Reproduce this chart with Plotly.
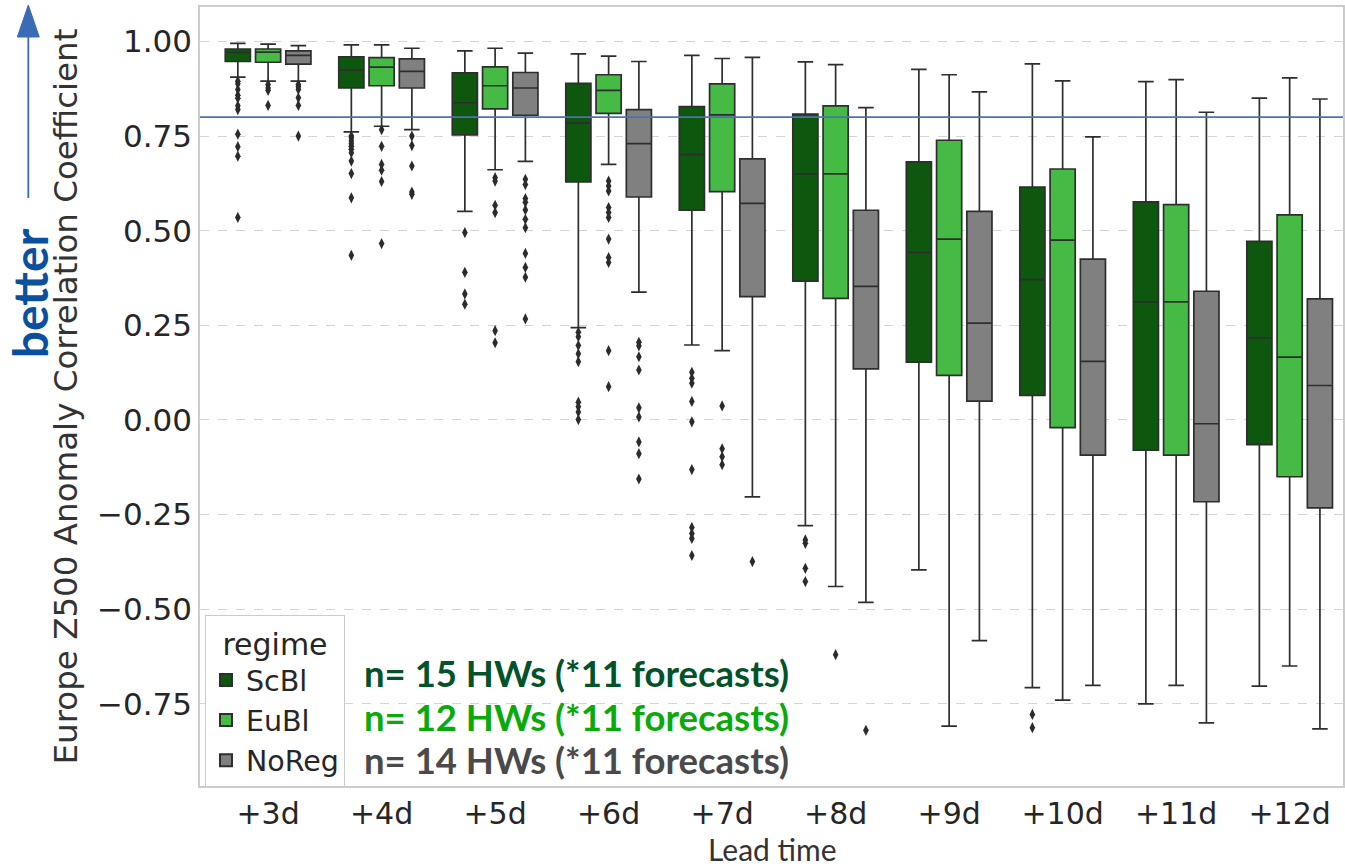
import plotly.graph_objects as go

LEADS = ["+3d", "+4d", "+5d", "+6d", "+7d", "+8d", "+9d", "+10d", "+11d", "+12d"]
REGIMES = ["ScBl", "EuBl", "NoReg"]
THRESHOLD = 0.8
Y_TICKS = [-0.75, -0.5, -0.25, 0.0, 0.25, 0.5, 0.75, 1.0]

SCBL_HI = [0.995, 0.991, 0.975, 0.967, 0.963, 0.946, 0.926, 0.941, 0.894, 0.850]
SCBL_Q3 = [0.980, 0.959, 0.917, 0.889, 0.828, 0.808, 0.682, 0.615, 0.576, 0.472]
SCBL_MED = [0.971, 0.924, 0.838, 0.785, 0.701, 0.650, 0.443, 0.371, 0.312, 0.217]
SCBL_Q1 = [0.947, 0.877, 0.753, 0.629, 0.554, 0.367, 0.153, 0.065, -0.080, -0.065]
SCBL_LO = [0.906, 0.761, 0.551, 0.244, 0.198, -0.279, -0.396, -0.707, -0.750, -0.703]
SCBL_FLIERS = [
    [0.895, 0.888, 0.873, 0.858, 0.850, 0.830, 0.820, 0.755, 0.722, 0.697, 0.535],
    [0.750, 0.745, 0.737, 0.730, 0.723, 0.715, 0.706, 0.684, 0.651, 0.587, 0.435],
    [0.495, 0.390, 0.333, 0.306],
    [0.232, 0.220, 0.197, 0.175, 0.154, 0.047, 0.035, 0.021, 0.001],
    [0.126, 0.110, 0.097, 0.049, -0.005, -0.131, -0.284, -0.300, -0.313, -0.358],
    [-0.317, -0.326, -0.392, -0.427],
    [],
    [-0.778, -0.813],
    [],
    [],
]

EUBL_HI = [0.993, 0.991, 0.982, 0.961, 0.955, 0.939, 0.912, 0.896, 0.899, 0.904]
EUBL_Q3 = [0.980, 0.957, 0.933, 0.912, 0.888, 0.830, 0.739, 0.663, 0.569, 0.542]
EUBL_MED = [0.972, 0.932, 0.883, 0.871, 0.806, 0.650, 0.478, 0.475, 0.312, 0.166]
EUBL_Q1 = [0.945, 0.883, 0.822, 0.810, 0.603, 0.321, 0.118, -0.020, -0.093, -0.150]
EUBL_LO = [0.895, 0.776, 0.661, 0.675, 0.183, -0.440, -0.809, -0.740, -0.701, -0.650]
EUBL_FLIERS = [
    [0.886, 0.877, 0.871, 0.831],
    [0.767, 0.723, 0.675, 0.660, 0.630, 0.466],
    [0.640, 0.631, 0.567, 0.548, 0.236, 0.204],
    [0.631, 0.618, 0.605, 0.561, 0.548, 0.535, 0.478, 0.429, 0.416, 0.183, 0.088],
    [0.037, -0.076, -0.097, -0.118],
    [-0.620],
    [],
    [],
    [],
    [],
]

NOREG_HI = [0.989, 0.982, 0.969, 0.947, 0.958, 0.825, 0.867, 0.748, 0.813, 0.848]
NOREG_Q3 = [0.975, 0.954, 0.918, 0.820, 0.690, 0.554, 0.551, 0.425, 0.340, 0.320]
NOREG_MED = [0.963, 0.921, 0.877, 0.730, 0.572, 0.353, 0.256, 0.155, -0.010, 0.091]
NOREG_Q1 = [0.940, 0.877, 0.805, 0.589, 0.326, 0.135, 0.050, -0.093, -0.216, -0.232]
NOREG_LO = [0.895, 0.767, 0.683, 0.338, -0.203, -0.482, -0.583, -0.701, -0.800, -0.816]
NOREG_FLIERS = [
    [0.886, 0.880, 0.873, 0.851, 0.831, 0.750],
    [0.750, 0.725, 0.671, 0.602, 0.596],
    [0.636, 0.622, 0.585, 0.575, 0.555, 0.530, 0.508, 0.440, 0.403, 0.377, 0.267],
    [0.205, 0.196, 0.167, 0.132, 0.032, 0.008, -0.058, -0.089, -0.156],
    [-0.374],
    [-0.820],
    [],
    [],
    [],
    [],
]

N_TEXTS = ["n= 15 HWs (*11 forecasts)", "n= 12 HWs (*11 forecasts)", "n= 14 HWs (*11 forecasts)"]
X_TITLE = "Lead time"
Y_TITLE = "Europe Z500 Anomaly Correlation Coefficient"

FILL = {"ScBl": "#0e570e", "EuBl": "#45bb45", "NoReg": "#808080"}
TEXT_COL = ["#03532a", "#0aaa0a", "#4a4a4a"]
LINE_COL = "#2e2e2e"

STATS = {
    "ScBl": (SCBL_Q1, SCBL_MED, SCBL_Q3, SCBL_LO, SCBL_HI, SCBL_FLIERS),
    "EuBl": (EUBL_Q1, EUBL_MED, EUBL_Q3, EUBL_LO, EUBL_HI, EUBL_FLIERS),
    "NoReg": (NOREG_Q1, NOREG_MED, NOREG_Q3, NOREG_LO, NOREG_HI, NOREG_FLIERS),
}

fig = go.Figure()
for reg in REGIMES:
    q1, med, q3, lo, hi, _ = STATS[reg]
    fig.add_trace(go.Box(
        name=reg, x=LEADS, q1=q1, median=med, q3=q3,
        lowerfence=lo, upperfence=hi, offsetgroup=reg,
        fillcolor=FILL[reg], line=dict(color=LINE_COL, width=1.7),
        whiskerwidth=0.62, boxpoints=False, hoverinfo="skip",
    ))
for reg in REGIMES:
    fl = STATS[reg][5]
    xs, ys = [], []
    for lead, vals in zip(LEADS, fl):
        for v in vals:
            xs.append(lead)
            ys.append(v)
    fig.add_trace(go.Scatter(
        x=xs, y=ys, mode="markers", offsetgroup=reg, showlegend=False,
        marker=dict(symbol="diamond-tall", size=8, color="#2b2b2b"),
        hoverinfo="skip",
    ))

# plot-area pixel helpers for decorations
L, T, W, H = 200, 7, 1145, 779
def px(xp):
    return (xp - L) / W
def py(yp):
    return (T + H - yp) / H

annotations = []
for i, (txt, col) in enumerate(zip(N_TEXTS, TEXT_COL)):
    annotations.append(dict(
        text="<b>" + txt + "</b>", xref="paper", yref="paper",
        x=px(362), y=py(673 + 43.5 * i), xanchor="left", yanchor="middle",
        showarrow=False, font=dict(family="Lato", size=36.5, color=col),
    ))
annotations.append(dict(
    text="<b>better</b>", xref="paper", yref="paper", x=px(30), y=py(293),
    xanchor="center", yanchor="middle", textangle=-90, showarrow=False,
    font=dict(family="Lato", size=48, color="#0b4f9f"),
))
annotations.append(dict(
    text=X_TITLE, xref="paper", yref="paper", x=px(774), y=py(869),
    xanchor="center", yanchor="bottom", showarrow=False,
    font=dict(family="Lato", size=30, color="#333333"),
))

ARROW_COL = "#3a6bb5"
shapes = [
    dict(type="line", xref="paper", yref="y", x0=0, x1=1, y0=THRESHOLD, y1=THRESHOLD,
         line=dict(color="#4c72b0", width=1.6), layer="above"),
    dict(type="path", xref="paper", yref="paper",
         path=f"M {px(28)} {py(198)} L {px(28)} {py(36)}",
         line=dict(color=ARROW_COL, width=1.8), layer="above"),
    dict(type="path", xref="paper", yref="paper",
         path=f"M {px(17)} {py(37)} L {px(39)} {py(37)} L {px(28)} {py(5)} Z",
         fillcolor=ARROW_COL, line=dict(color=ARROW_COL, width=1), layer="above"),
]

fig.update_layout(
    width=1345, height=868,
    margin=dict(l=L, r=0, t=T, b=868 - T - H),
    paper_bgcolor="white", plot_bgcolor="white",
    boxmode="group", boxgap=0.2, boxgroupgap=0.17,
    scattermode="group", scattergap=0.2,
    font=dict(family="DejaVu Sans", size=31, color="#262626"),
    annotations=annotations, shapes=shapes,
    legend=dict(
        x=px(205), y=py(615), xanchor="left", yanchor="top",
        bgcolor="white", bordercolor="#cccccc", borderwidth=1,
        font=dict(family="DejaVu Sans", size=28.5, color="#262626"),
        title=dict(text="regime", side="top center",
                   font=dict(family="DejaVu Sans", size=30, color="#262626")),
        itemsizing="constant", tracegroupgap=0,
    ),
    xaxis=dict(
        type="category", categoryorder="array", categoryarray=LEADS,
        range=[-0.6, 9.47], showgrid=False, zeroline=False,
        showline=True, linecolor="#cccccc", linewidth=1.5, mirror=True,
        ticks="", tickfont=dict(size=30, color="#262626"),
    ),
    yaxis=dict(
        range=[-0.967, 1.091], tickvals=Y_TICKS, tickformat=".2f",
        showgrid=True, gridcolor="#d5d5d5", griddash="dash", gridwidth=1,
        zeroline=False, showline=True, linecolor="#cccccc", linewidth=1.5, mirror=True,
        ticks="", tickfont=dict(size=31, color="#262626"),
        title=dict(text=Y_TITLE,
                   font=dict(family="DejaVu Sans", size=32.5, color="#333333"), standoff=10),
    ),
)

fig.write_html("out.html")
